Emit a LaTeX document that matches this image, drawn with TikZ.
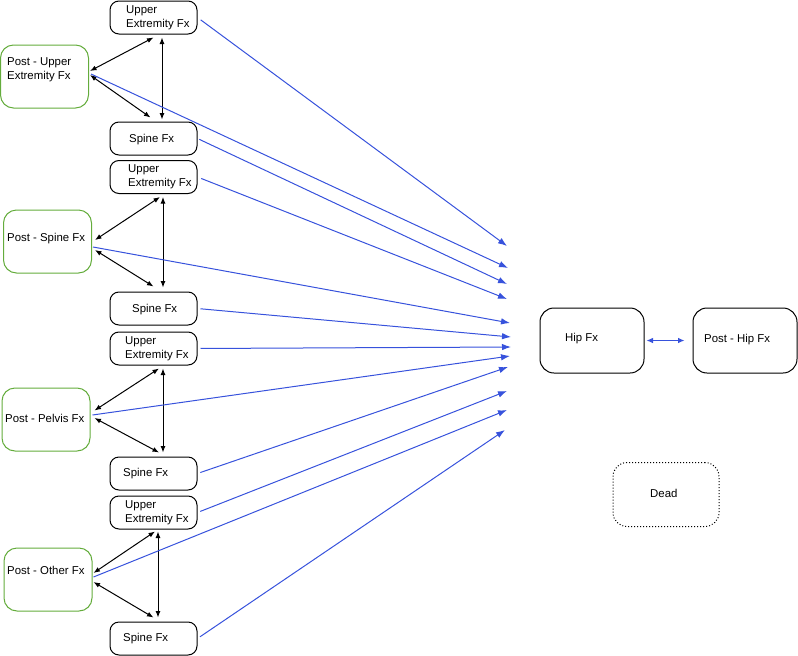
\documentclass[tikz,border=0pt]{standalone}
\usepackage{fontspec}
\setmainfont{Liberation Sans}
\usetikzlibrary{arrows.meta,calc}
\definecolor{bl}{RGB}{55,82,220}
\definecolor{gr}{RGB}{100,172,60}
\begin{document}
\begin{tikzpicture}[x=1pt,y=-1pt,
  font=\fontsize{11.4}{14}\selectfont,
  box/.style={draw=black, line width=1pt, rounded corners=9pt, minimum width=87pt, minimum height=33pt, inner sep=0pt},
  postbox/.style={draw=gr, line width=1pt, rounded corners=13pt, minimum width=88pt, minimum height=63pt, inner sep=0pt},
  bigbox/.style={draw=black, line width=1pt, rounded corners=14pt, minimum width=104pt, minimum height=65pt, inner sep=0pt},
  txt/.style={anchor=west, align=left, inner sep=0pt},
  karr/.style={draw=black, line width=1pt, {Latex[length=6.5pt,width=5pt]}-{Latex[length=6.5pt,width=5pt]}},
  barr/.style={draw=bl, line width=1pt, -{Latex[length=9pt,width=6.5pt]}},
  harr/.style={draw=bl, line width=1pt, {Latex[length=6.5pt,width=5.5pt]}-{Latex[length=6.5pt,width=5.5pt]}}
]
\useasboundingbox (0,0) rectangle (798,656);

% left column boxes
\node[box] (ue1) at (153.5,17.5) {};
\node[txt] (ue1t) at (126,17.5) {Upper\\Extremity Fx};
\node[postbox] (postue) at (44.5,76.5) {};
\node[txt] (postuet) at (7,70) {Post - Upper\\Extremity Fx};
\node[box] (sp1) at (153.5,138.5) {};
\node[txt] (sp1t) at (129,139.5) {Spine Fx};

\node[box] (ue2) at (153.5,177) {};
\node[txt] (ue2t) at (128,177) {Upper\\Extremity Fx};
\node[postbox] (postsp) at (47.5,241.5) {};
\node[txt] (postspt) at (7,238.5) {Post - Spine Fx};
\node[box] (sp2) at (153.5,308.5) {};
\node[txt] (sp2t) at (132,309.5) {Spine Fx};

\node[box] (ue3) at (153.5,348.5) {};
\node[txt] (ue3t) at (125,348.5) {Upper\\Extremity Fx};
\node[postbox] (postpe) at (46,419.5) {};
\node[txt] (postpet) at (5,418) {Post - Pelvis Fx};
\node[box] (sp3) at (153.5,473.5) {};
\node[txt] (sp3t) at (123,474) {Spine Fx};

\node[box] (ue4) at (153.5,512.5) {};
\node[txt] (ue4t) at (125,512.5) {Upper\\Extremity Fx};
\node[postbox] (postot) at (48,579.5) {};
\node[txt] (postott) at (7,570.5) {Post - Other Fx};
\node[box] (sp4) at (153.5,638.5) {};
\node[txt] (sp4t) at (123,639) {Spine Fx};

% right boxes
\node[bigbox] (hip) at (592,340.5) {};
\node[txt] (hipt) at (565,338.5) {Hip Fx};
\node[bigbox] (posthip) at (745,340.5) {};
\node[txt] (posthipt) at (704,340) {Post - Hip Fx};
\node[bigbox, dotted, minimum width=106pt, minimum height=64pt] (dead) at (666,494.5) {};
\node[txt] (deadt) at (650,493.5) {Dead};

% black double arrows
\draw[karr] ($(postue.east)+(1,-5.5)$) -- ($(ue1.south)+(0,3)$);
\draw[karr] ($(postue.east)+(1,-1.5)$) -- ($(sp1.north)+(-3,-4)$);
\draw[karr] ($(ue1.south)+(8.5,3)$) -- ($(sp1.north)+(8.5,-2)$);

\draw[karr] ($(postsp.east)+(3,-1.5)$) -- ($(ue2.south)+(6.5,3)$);
\draw[karr] ($(postsp.east)+(3,8.5)$) -- ($(sp2.north)+(0,-5)$);
\draw[karr] ($(ue2.south)+(9.5,3)$) -- ($(sp2.north)+(9.5,-4)$);

\draw[karr] ($(postpe.east)+(4,-9)$) -- ($(ue3.south)+(5.5,3)$);
\draw[karr] ($(postpe.east)+(4,-1.5)$) -- ($(sp3.north)+(5.5,-4)$);
\draw[karr] ($(ue3.south)+(9.5,3)$) -- ($(sp3.north)+(9.5,-4)$);

\draw[karr] ($(postot.east)+(1,-6.5)$) -- ($(ue4.south)+(1.5,2)$);
\draw[karr] ($(postot.east)+(1,2.5)$) -- ($(sp4.north)+(0,-4)$);
\draw[karr] ($(ue4.south)+(4.5,2)$) -- ($(sp4.north)+(4.5,-4)$);

% blue arrow targets
\coordinate (t1) at (507,246);
\coordinate (t2) at (508,268);
\coordinate (t3) at (507,284);
\coordinate (t4) at (507,299);
\coordinate (t5) at (510,323);
\coordinate (t6) at (511,337);
\coordinate (t7) at (511,347);
\coordinate (t8) at (510,356);
\coordinate (t9) at (508,367);
\coordinate (t10) at (507,391);
\coordinate (t11) at (507,410);
\coordinate (t12) at (505,430);

\draw[barr, shorten <=4pt] (ue1.east) -- (t1);
\draw[barr] ($(postue.east)+(2,-2.5)$) -- (t2);
\draw[barr, shorten <=2pt] (sp1.east) -- (t3);
\draw[barr, shorten <=4pt] (ue2.east) -- (t4);
\draw[barr] ($(postsp.east)+(1,5.5)$) -- (t5);
\draw[barr, shorten <=3pt] (sp2.east) -- (t6);
\draw[barr, shorten <=3pt] (ue3.east) -- (t7);
\draw[barr] ($(postpe.east)+(2,-4.5)$) -- (t8);
\draw[barr, shorten <=3pt] (sp3.east) -- (t9);
\draw[barr, shorten <=3pt] (ue4.east) -- (t10);
\draw[barr] ($(postot.east)+(1,-2.5)$) -- (t11);
\draw[barr, shorten <=3pt] (sp4.east) -- (t12);

\draw[harr] ($(hip.east)+(2,0)$) -- ($(posthip.west)+(-8,0)$);
\end{tikzpicture}
\end{document}
